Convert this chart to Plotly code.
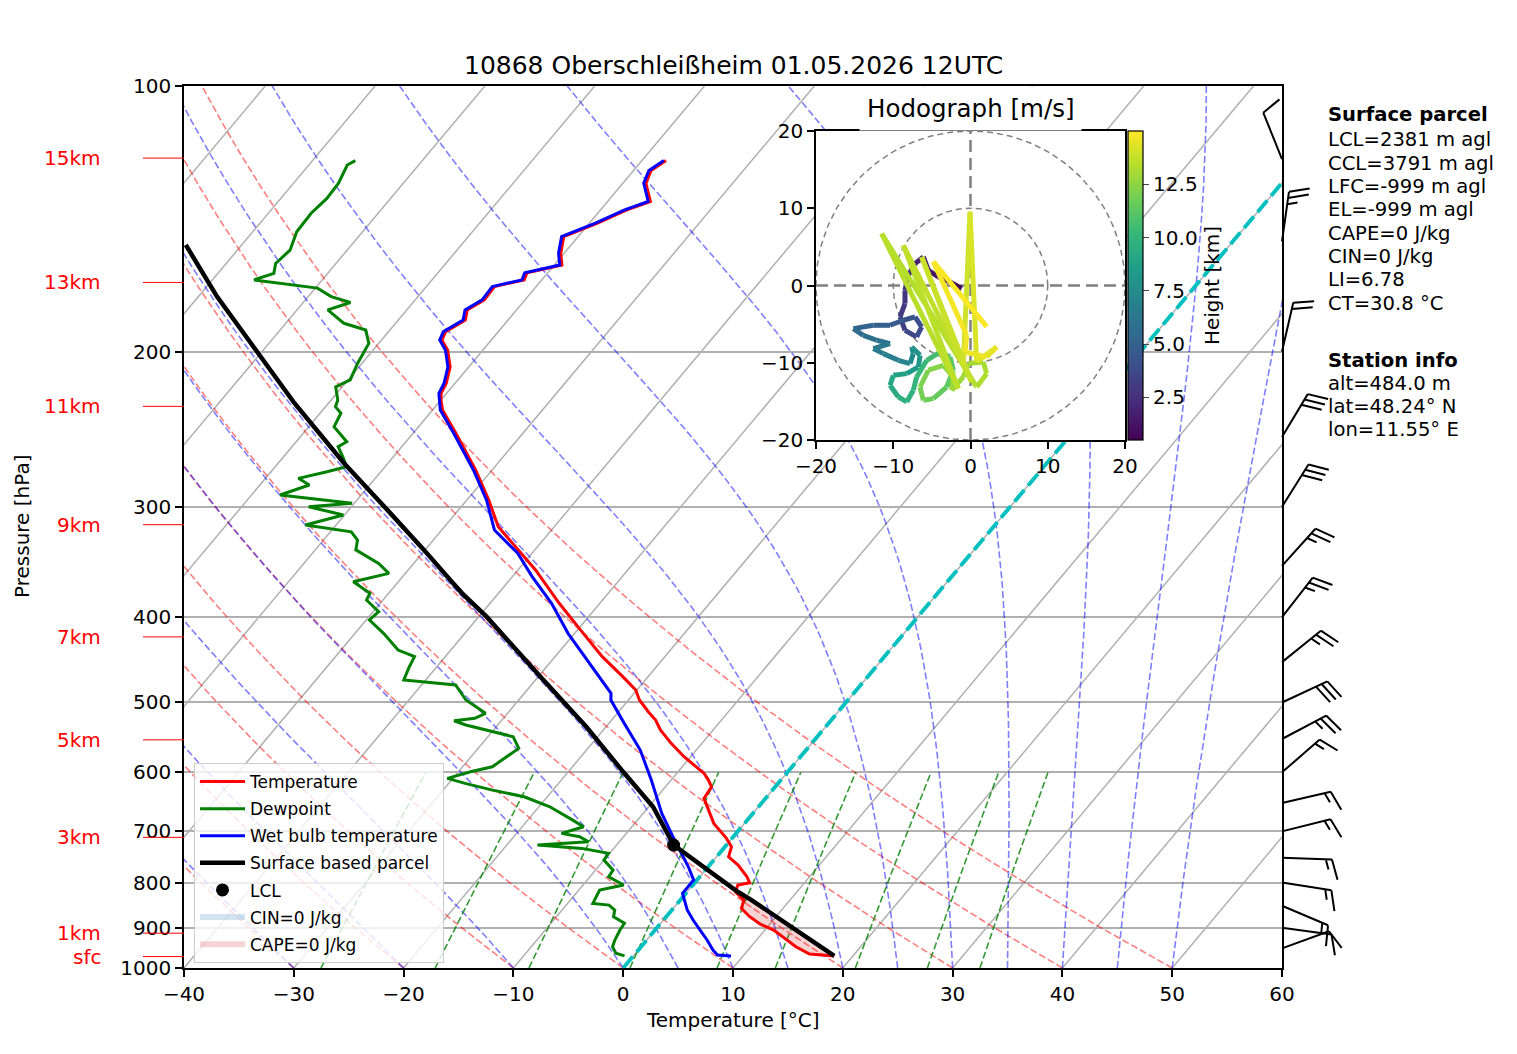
import numpy as np
import plotly.graph_objects as go
from plotly.colors import sample_colorscale

# --- sounding, surface upward (hPa, degC) ---
temp_p = [969.0, 964.0, 945.9, 921.5, 905.6, 891.5, 874.7, 855.7, 837.5, 819.5,
          805.3, 800.5, 788.0, 764.4, 748.0, 728.7, 712.9, 685.6, 656.5, 642.3,
          623.1, 612.3, 601.7, 576.1, 556.3, 537.2, 523.4, 512.2, 496.8, 484.0,
          467.4, 443.6, 413.9, 385.9, 353.8, 330.0, 316.0, 294.8, 272.5, 247.6,
          233.0, 227.0, 223.1, 217.3, 208.2, 199.3, 194.1, 189.9, 184.2, 179.4,
          174.8, 168.8, 165.9, 162.8, 159.6, 154.8, 148.2, 143.1, 138.2, 135.2,
          128.9, 124.7, 121.5]
temp_t = [18.3, 15.9, 14.1, 12.1, 10.8, 9.1, 7.6, 6.2, 5.8, 4.4,
          4.1, 5.0, 4.3, 2.6, 1.1, 0.6, -0.5, -2.8, -4.7, -5.6,
          -5.8, -6.6, -7.5, -10.6, -12.8, -14.8, -16.0, -17.3, -19.0, -20.1,
          -22.3, -25.7, -29.7, -33.7, -38.4, -42.5, -45.1, -48.0, -51.5, -56.1,
          -59.1, -60.0, -60.5, -60.8, -61.7, -63.2, -64.5, -64.8, -63.9, -64.5,
          -63.7, -63.8, -61.6, -61.9, -59.3, -60.3, -61.3, -59.3, -57.6, -56.1,
          -57.9, -58.4, -57.8]

dewp_p = [969.0, 962.2, 945.9, 929.5, 905.6, 889.9, 874.7, 859.5, 848.5, 844.8,
          815.9, 805.3, 788.0, 774.5, 754.5, 741.4, 731.8, 725.5, 719.3, 709.9,
          703.7, 691.7, 679.7, 656.5, 639.6, 628.5, 617.6, 609.6, 599.2, 591.4,
          563.6, 546.7, 530.3, 524.4, 521.1, 514.3, 496.8, 477.6, 471.4, 455.4,
          443.6, 436.0, 417.4, 403.1, 394.5, 382.6, 376.0, 364.8, 356.9, 347.7,
          335.7, 327.2, 320.2, 314.6, 306.5, 299.9, 297.3, 290.9, 283.4, 278.5,
          273.7, 270.2, 263.3, 256.4, 253.1, 243.4, 235.0, 231.0, 227.0, 219.3,
          215.4, 206.3, 195.8, 189.1, 185.8, 179.4, 176.0, 173.3, 169.5, 165.9,
          163.1, 158.9, 153.5, 146.3, 139.4, 134.1, 128.9, 122.9, 121.5]
dewp_t = [-0.8, -1.8, -2.6, -2.9, -3.2, -3.3, -4.8, -5.2, -6.1, -7.7,
          -8.1, -6.3, -8.3, -8.4, -10.0, -10.1, -12.9, -17.2, -12.8, -14.0,
          -15.9, -14.4, -15.9, -19.0, -22.1, -25.5, -28.5, -30.5, -28.9, -27.3,
          -26.3, -27.7, -32.9, -34.3, -32.6, -32.0, -34.8, -36.9, -42.0, -42.5,
          -42.8, -44.8, -47.4, -49.7, -49.5, -51.5, -51.7, -54.1, -51.5, -53.2,
          -56.3, -56.9, -58.1, -62.8, -60.1, -63.9, -60.2, -67.4, -65.5, -67.0,
          -64.9, -63.5, -64.6, -65.8, -65.4, -67.7, -68.1, -69.1, -69.4, -70.6,
          -69.8, -70.4, -70.9, -72.2, -74.7, -77.2, -75.7, -77.9, -79.8, -86.2,
          -84.9, -85.5, -85.2, -86.0, -86.1, -85.8, -85.9, -86.5, -86.1]

wetb_p = [969.0, 966.6, 954.1, 929.5, 905.6, 882.3, 859.5, 823.0, 794.9, 767.8,
          709.9, 667.9, 612.3, 566.1, 528.0, 496.8, 488.2, 455.4, 417.4, 385.9,
          360.0, 338.7, 318.7, 294.8, 272.5, 247.6, 233.0, 223.1, 217.3, 208.2,
          199.3, 194.1, 189.9, 184.2, 179.4, 174.8, 168.8, 165.9, 162.8, 159.6,
          154.8, 148.2, 143.1, 138.2, 135.2, 128.9, 124.7, 121.5]
wetb_t = [8.9, 7.6, 6.8, 5.5, 4.1, 2.7, 1.4, -0.3, -0.3, -1.8,
          -5.5, -8.3, -11.8, -15.1, -18.6, -21.6, -22.1, -25.9, -30.6, -34.4,
          -38.2, -41.3, -45.2, -48.2, -51.7, -56.3, -59.3, -60.7, -61.0, -61.9,
          -63.4, -64.7, -65.0, -64.1, -64.7, -63.9, -64.0, -61.8, -62.1, -59.5,
          -60.5, -61.5, -59.5, -57.8, -56.3, -58.1, -58.6, -58.0]

parcel_p = [969.0, 900.0, 837.5, 819.5, 725.5, 656.5, 599.2, 532.7, 496.8, 467.4,
            399.6, 376.0, 363.2, 335.7, 299.9, 267.7, 228.9, 199.6, 173.3, 151.4]
parcel_t = [18.3, 12.4, 6.5, 4.6, -4.8, -9.6, -15.0, -21.8, -26.1, -29.8,
            -39.3, -43.3, -45.4, -50.1, -57.0, -64.0, -73.1, -80.6, -88.3, -95.1]
lcl_p, lcl_t = 725.5, -4.8

# wind barbs at the right edge (hPa, direction deg, speed kt)
barb_p = [121, 150, 200, 250, 300, 350, 400, 450, 500, 550, 600, 650, 700, 750, 800, 850, 900, 950]
barb_dir = [338, 8, 13, 31, 32, 42, 38, 51, 65, 62, 49, 77, 76, 92, 99, 113, 98, 70]
barb_kt = [10, 25, 20, 30, 30, 25, 25, 25, 30, 25, 15, 15, 15, 15, 15, 15, 10, 10]

# hodograph (m/s) and height (km)
hodo_u = [-1.14, -2.65, -4.16, -5.46, -6.10, -7.18, -8.05, -8.48, -8.48, -9.12,
          -8.48, -6.97, -6.32, -7.18, -8.69, -10.42, -12.58, -15.16, -13.87, -12.14,
          -10.42, -12.58, -11.28, -9.34, -7.83, -7.40, -7.61, -6.53, -6.75, -8.26,
          -9.99, -10.42, -9.34, -8.26, -7.40, -6.97, -5.67, -3.95, -2.65, -2.22,
          -3.08, -4.81, -6.10, -6.54, -5.46, -3.52, -2.22, -2.44, -0.93, -0.28,
          1.66, 2.09, 0.80, -11.50, -1.57, -8.69, 0.15, -6.32, -0.93, -0.06,
          0.80, 3.39, 2.09, -0.71, -0.50, -4.81, 2.09]
hodo_v = [-0.41, 0.46, 1.10, 1.97, 3.69, 2.83, 1.32, -0.62, -2.35, -4.07,
          -5.80, -6.66, -5.37, -4.07, -4.50, -5.15, -5.15, -5.58, -6.45, -7.09,
          -7.52, -8.17, -8.82, -9.68, -10.11, -8.82, -7.95, -9.04, -10.55, -11.41,
          -11.63, -12.92, -14.43, -15.07, -13.56, -11.84, -9.68, -8.61, -9.25, -10.97,
          -13.14, -14.64, -14.86, -13.14, -10.97, -10.33, -11.84, -13.56, -11.84, -10.11,
          -9.90, -11.41, -13.14, 6.71, -13.36, 5.20, -12.49, 3.69, -10.30, 9.56,
          -9.85, -7.96, -9.25, -8.60, -6.45, 3.09, -5.33]
hodo_h = [0.5, 0.8, 1.1, 1.4, 1.7, 2.0, 2.3, 2.6, 2.9, 3.2,
          3.5, 3.8, 4.0, 4.2, 4.4, 4.7, 5.0, 5.3, 5.6, 5.9,
          6.2, 6.4, 6.6, 6.9, 7.2, 7.5, 7.7, 8.0, 8.3, 8.6,
          8.9, 9.2, 9.5, 9.7, 9.9, 10.1, 10.4, 10.7, 11.0, 11.2,
          11.4, 11.6, 11.8, 12.0, 12.2, 12.4, 12.6, 12.8, 12.9, 13.0,
          13.1, 13.2, 13.3, 13.4, 13.5, 13.6, 13.7, 13.8, 13.9, 14.1,
          14.3, 14.45, 14.55, 14.65, 14.75, 14.85, 15.0]

height_text = ['sfc', '1km', '3km', '5km', '7km', '9km', '11km', '13km', '15km']
height_p = [970.7, 913.1, 711.0, 551.2, 421.3, 314.3, 230.8, 167.0, 120.7]

parcel_lines = ['LCL=2381 m agl', 'CCL=3791 m agl', 'LFC=-999 m agl', 'EL=-999 m agl',
                'CAPE=0 J/kg', 'CIN=0 J/kg', 'LI=6.78', 'CT=30.8 °C']
station_lines = ['alt=484.0 m', 'lat=48.24° N', 'lon=11.55° E']

title = '10868 Oberschleißheim 01.05.2026 12UTC'

# --- geometry (pixel positions of the reference; the page adds an 8 px body margin) ---
FONT = 'DejaVu Sans'
PAGE = 8
LEFT, TOP, RIGHT, BOTTOM = 184, 86, 1282, 968
PW, PH = RIGHT - LEFT, BOTTOM - TOP
FIG_W, FIG_H = 1517 - 2 * PAGE, 1054 - 2 * PAGE
SKEW = np.tan(np.deg2rad(40)) * PH / (PW / 100.0)  # degC shift per pressure decade


def px_x(px):
    return (px - LEFT) / PW


def px_y(py):
    return (BOTTOM - py) / PH


def skx(t, p):
    return np.asarray(t, float) + SKEW * np.log10(1000.0 / np.asarray(p, float))


def joined(lines):
    xs, ys = [], []
    for x, y in lines:
        xs += list(np.asarray(x, float)) + [None]
        ys += list(np.asarray(y, float)) + [None]
    return xs, ys


def moist_adiabat(t0, p):
    Rd, Cp, Lv, eps = 287.04749, 1004.68, 2.50084e6, 0.622

    def f(T, pp):
        es = 6.112 * np.exp(17.67 * (T - 273.15) / (T - 29.65))
        rs = eps * es / (pp - es)
        return (Rd * T + Lv * rs) / (Cp + Lv * Lv * rs * eps / (Rd * T * T))

    T = t0 + 273.15
    out = [T]
    for i in range(len(p) - 1):
        h = np.log(p[i + 1]) - np.log(p[i])
        pm = np.exp(np.log(p[i]) + h / 2)
        k1 = f(T, p[i])
        k2 = f(T + h / 2 * k1, pm)
        k3 = f(T + h / 2 * k2, pm)
        k4 = f(T + h * k3, p[i + 1])
        T = T + h / 6 * (k1 + 2 * k2 + 2 * k3 + k4)
        out.append(T)
    return np.array(out) - 273.15


fig = go.Figure()

# isotherms
xs, ys = joined([(skx([t, t], [1000, 100]), [1000, 100]) for t in range(-160, 61, 10)])
fig.add_trace(go.Scatter(x=xs, y=ys, mode='lines', line=dict(color='#b0b0b0', width=1.5),
                         showlegend=False, hoverinfo='skip'))

pp = np.linspace(1000, 100, 91)
# dry adiabats
xs, ys = joined([(skx((t0 + 273.15) * (pp / 1000) ** 0.2857 - 273.15, pp), pp)
                 for t0 in range(-40, 51, 10)])
fig.add_trace(go.Scatter(x=xs, y=ys, mode='lines',
                         line=dict(color='rgba(255,0,0,0.5)', width=1.6, dash='7px,3px'),
                         showlegend=False, hoverinfo='skip'))
# moist adiabats
moist_t0 = list(range(-40, 0, 10)) + list(range(0, 51, 5))
xs, ys = joined([(skx(moist_adiabat(t0, pp), pp), pp) for t0 in moist_t0])
fig.add_trace(go.Scatter(x=xs, y=ys, mode='lines',
                         line=dict(color='rgba(0,0,255,0.5)', width=1.6, dash='7px,3px'),
                         showlegend=False, hoverinfo='skip'))
# mixing ratio lines
pm = np.linspace(1000, 600, 20)
mix = []
for w in [0.0004, 0.001, 0.002, 0.004, 0.007, 0.01, 0.016, 0.024, 0.032]:
    ln = np.log(pm * w / (0.622 + w) / 6.112)
    mix.append((skx(243.5 * ln / (17.67 - ln), pm), pm))
xs, ys = joined(mix)
fig.add_trace(go.Scatter(x=xs, y=ys, mode='lines',
                         line=dict(color='rgba(0,128,0,0.8)', width=1.6, dash='7px,3px'),
                         showlegend=False, hoverinfo='skip'))
# 0 degC isotherm
fig.add_trace(go.Scatter(x=skx([0, 0], [1000, 100]), y=[1000, 100], mode='lines',
                         line=dict(color='#00bfbf', width=3.9, dash='15px,6px'),
                         showlegend=False, hoverinfo='skip'))

# CAPE shading between parcel and environment near the ground
cape = [(p, t) for p, t in zip(parcel_p, parcel_t) if p >= 819.5]
cape += [(p, t) for p, t in zip(temp_p, temp_t) if p >= 819.5][::-1]
fig.add_trace(go.Scatter(x=skx([c[1] for c in cape], [c[0] for c in cape]),
                         y=[c[0] for c in cape], mode='none', fill='toself',
                         fillcolor='rgba(214,39,40,0.2)', name='CAPE=0 J/kg',
                         legendgroup='cape', legendrank=7))
fig.add_trace(go.Scatter(x=[None], y=[None], mode='none', fill='toself',
                         fillcolor='rgba(31,119,180,0.2)', name='CIN=0 J/kg',
                         legendgroup='cin', legendrank=6))

fig.add_trace(go.Scatter(x=skx(temp_t, temp_p), y=temp_p, mode='lines', name='Temperature',
                         line=dict(color='red', width=3), legendgroup='t', legendrank=1))
fig.add_trace(go.Scatter(x=skx(dewp_t, dewp_p), y=dewp_p, mode='lines', name='Dewpoint',
                         line=dict(color='green', width=3), legendgroup='td', legendrank=2))
fig.add_trace(go.Scatter(x=skx(wetb_t, wetb_p), y=wetb_p, mode='lines', name='Wet bulb temperature',
                         line=dict(color='blue', width=3), legendgroup='tw', legendrank=3))
fig.add_trace(go.Scatter(x=skx(parcel_t, parcel_p), y=parcel_p, mode='lines',
                         name='Surface based parcel', line=dict(color='black', width=4.5),
                         legendgroup='pa', legendrank=4))
fig.add_trace(go.Scatter(x=skx([lcl_t], [lcl_p]), y=[lcl_p], mode='markers', name='LCL',
                         marker=dict(color='black', size=13), legendgroup='lcl', legendrank=5))

# --- hodograph inset ---
hx = dict(xaxis='x2', yaxis='y2', showlegend=False, hoverinfo='skip')
fig.add_trace(go.Scatter(x=[-20, 20, 20, -20, -20], y=[-20, -20, 20, 20, -20], mode='lines',
                         fill='toself', fillcolor='white', line=dict(width=0), **hx))
th = np.linspace(0, 2 * np.pi, 240)
for r in (10, 20):
    fig.add_trace(go.Scatter(x=r * np.cos(th), y=r * np.sin(th), mode='lines',
                             line=dict(color='gray', width=1.5, dash='6px,4px'), **hx))
fig.add_trace(go.Scatter(x=[-20, 20, None, 0, 0], y=[0, 0, None, -20, 20], mode='lines',
                         line=dict(color='gray', width=2.5, dash='12px,6px'), **hx))
hmin, hmax = min(hodo_h), max(hodo_h)
for i in range(len(hodo_u) - 1):
    frac = ((hodo_h[i] + hodo_h[i + 1]) / 2 - hmin) / (hmax - hmin)
    col = sample_colorscale('Viridis', [frac])[0]
    fig.add_trace(go.Scatter(x=hodo_u[i:i + 2], y=hodo_v[i:i + 2], mode='lines',
                             line=dict(color=col, width=5), **hx))
fig.add_trace(go.Scatter(
    x=hodo_u, y=hodo_v, mode='markers',
    marker=dict(size=2, opacity=0, color=hodo_h, colorscale='Viridis', cmin=hmin, cmax=hmax,
                showscale=True,
                colorbar=dict(x=px_x(1128), xanchor='left', xpad=0, ypad=0,
                              y=px_y(285.5), yanchor='middle', len=309, lenmode='pixels',
                              thickness=15, outlinewidth=1.2, outlinecolor='black',
                              ticks='outside', ticklen=6, tickwidth=1.4,
                              tickvals=[2.5, 5, 7.5, 10, 12.5],
                              ticktext=['2.5', '5.0', '7.5', '10.0', '12.5'],
                              tickfont=dict(size=20),
                              title=dict(text='Height [km]', side='right', font=dict(size=20)))),
    **hx))

# --- wind barbs (drawn in pixel space, converted to paper) ---
shapes = []
for p, wd, kt in zip(barb_p, barb_dir, barb_kt):
    Lb = 50.0
    a = np.deg2rad(wd)
    d = np.array([np.sin(a), np.cos(a)])
    n = np.array([d[1], -d[0]])
    base = np.array([PW, PH * (3 - np.log10(p))])
    segs = [(base, base + Lb * d)]
    nfull, half = divmod(int(5 * round(kt / 5.0)), 10)
    off, sp = Lb, 0.125 * Lb
    for _ in range(nfull):
        s = base + off * d
        segs.append((s, s + 0.4 * Lb * n + 0.125 * Lb * d))
        off -= sp
    if half:
        if off == Lb:
            off -= 1.5 * sp
        s = base + off * d
        segs.append((s, s + 0.2 * Lb * n + 0.0625 * Lb * d))
    path = ' '.join(f'M{s0[0] / PW:.5f},{s0[1] / PH:.5f} L{s1[0] / PW:.5f},{s1[1] / PH:.5f}'
                    for s0, s1 in segs)
    shapes.append(dict(type='path', path=path, xref='paper', yref='paper',
                       line=dict(color='black', width=2)))

annotations = []


def label(text, x, y, size=20, color='black', xanchor='center', **kw):
    annotations.append(dict(text=text, x=x, y=y, xref='paper', yref='paper', showarrow=False,
                            xanchor=xanchor, yanchor='middle',
                            font=dict(size=size, color=color), **kw))


# height markers on the left
for txt, p in zip(height_text, height_p):
    yv = 3 - np.log10(p)
    shapes.append(dict(type='line', xref='paper', yref='paper', x0=px_x(143), x1=0,
                       y0=yv, y1=yv, line=dict(color='red', width=1)))
    label(txt, px_x(103), yv, color='red', xanchor='right')

label(title, 0.5, px_y(65), size=25)
label('Pressure [hPa]', px_x(22), 0.5, textangle=-90)
label('Temperature [°C]', 0.5, px_y(1020))
label('Hodograph [m/s]', px_x(970.5), px_y(109), size=24.5, bgcolor='white', borderpad=7)

label('<b>Surface parcel</b>', px_x(1326), px_y(114), size=19.6, xanchor='left')
for i, txt in enumerate(parcel_lines):
    label(txt, px_x(1326), px_y(140 + 23.3 * i), size=19.6, xanchor='left')
label('<b>Station info</b>', px_x(1326), px_y(360), size=19.6, xanchor='left')
for i, txt in enumerate(station_lines):
    label(txt, px_x(1326), px_y(383 + 23.3 * i), size=19.6, xanchor='left')

xt = list(range(-40, 61, 10))
ht = [-20, -10, 0, 10, 20]
axis_common = dict(showline=True, mirror=True, linecolor='black', linewidth=1.6,
                   ticks='outside', ticklen=7, tickwidth=1.6, tickcolor='black',
                   zeroline=False, tickfont=dict(size=20))
fig.update_layout(
    template='none', autosize=False, width=FIG_W, height=FIG_H,
    margin=dict(l=LEFT - PAGE, r=FIG_W - (RIGHT - PAGE), t=TOP - PAGE,
                b=FIG_H - (BOTTOM - PAGE), pad=0),
    plot_bgcolor='white', paper_bgcolor='white',
    font=dict(family=FONT, size=20, color='black'),
    xaxis=dict(range=[-40, 60], tickvals=xt, ticktext=[str(v).replace('-', '\u2212') for v in xt],
               showgrid=False, **axis_common),
    yaxis=dict(type='log', range=[3, 2], tickvals=list(range(100, 1001, 100)),
               ticktext=[str(v) for v in range(100, 1001, 100)],
               showgrid=True, gridcolor='#b0b0b0', gridwidth=1.5, **axis_common),
    xaxis2=dict(domain=[px_x(816), px_x(1125)], anchor='y2', range=[-20, 20], tickvals=ht,
                ticktext=[str(v).replace('-', '\u2212') for v in ht], showgrid=False, **axis_common),
    yaxis2=dict(domain=[px_y(440), px_y(131)], anchor='x2', range=[-20, 20], tickvals=ht,
                ticktext=[str(v).replace('-', '\u2212') for v in ht], showgrid=False, **axis_common),
    legend=dict(x=px_x(194), y=px_y(763), xanchor='left', yanchor='top',
                bgcolor='rgba(255,255,255,0.8)', bordercolor='#cccccc', borderwidth=1,
                font=dict(size=17), tracegroupgap=2, itemwidth=45),
    shapes=shapes, annotations=annotations,
)

fig.write_html('out.html')
